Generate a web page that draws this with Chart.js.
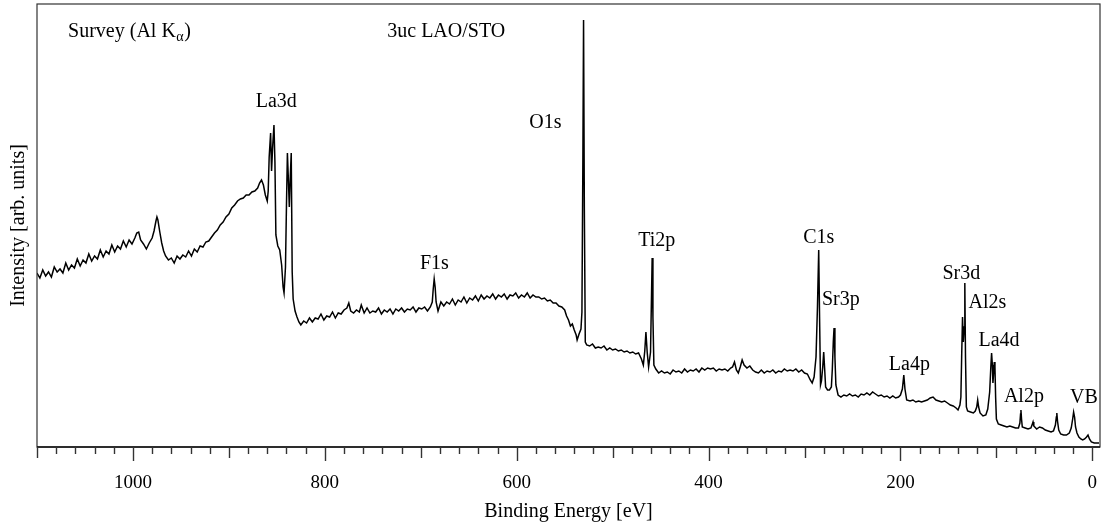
<!DOCTYPE html>
<html>
<head>
<meta charset="utf-8">
<script src="https://cdn.jsdelivr.net/npm/chart.js@4/dist/chart.umd.min.js"></script>
<style>
html,body{margin:0;padding:0;background:#fff;}
#wrap{width:1104px;height:525px;position:relative;}
</style>
</head>
<body>
<div id="wrap"><canvas id="c" width="1104" height="525"></canvas></div>
<script>
// Binding energy [eV] and intensity [arb. units]
const bindingEnergy = [
1100,1097,1094,1091,1088,1085,1082,1079,1076,1073,1070,1067,1064,1061,1058,1055,1052,1049,1046,1043,
1040,1037,1034,1031,1028,1025,1022,1019,1016,1013,1010,1007,1004,1001,998,996,994,992,989,986,
983,980,978,976,975,974,972,970,968,966,963,960,957,954,951,948,945,942,939,936,
933,930,927,924,921,918,915,912,909,906,903,900,897,894,891,888,885,882,879,876,
873,870,868,866,864,862,860,859,858,856.5,855.5,854.5,853,852,851,849,847,845,843.5,842.5,
841,840,839,838,837,836,835,834,833,831,829,827,825,
822,819,816,813,810,807,804,801,798,795,792,789,786,783,780,777,775,773,770,767,
764,762,759,756,753,750,747,744,741,738,735,732,729,726,723,720,717,714,711,708,
705,702,699,696,693,690,688,687,686,685,684,682,679,676,673,670,667,664,661,658,
655,652,649,646,643,640,637,634,631,628,625,622,619,616,613,610,607,604,601,598,
595,592,589,586,583,580,577,574,571,568,565,562,559,556,553,550,548,546,544,542,
540,538,537,535,533,532,531,530.3,529.5,528.5,527,524,521,518,515,512,509,506,503,500,
497,494,491,488,485,482,479,476,473,470,468,466.5,465.3,464,462.5,460.5,459.5,458.8,458,457,
455,452,449,446,443,440,437,434,431,428,425,422,419,416,413,410,407,404,401,398,
395,392,389,386,383,380,377,375,373,371,369,367,365,363,360,357,354,351,348,345,
342,339,336,333,330,327,324,321,318,315,312,309,306,303,300,297,294,292,290,288,
286.5,285.2,284.3,283.3,282.3,281,280,279,278,276,274,272,271,270,269.2,268.3,267.3,265,262,259,
256,253,250,247,244,241,238,235,232,229,226,223,220,217,214,211,208,205,202,200,
198,196.5,195.3,193.5,190,187,184,181,178,175,172,169,166,163,160,157,154,151,148,145,
142,140,138,137,136.2,135.3,134.5,133.5,132.9,132.2,131.3,130,127,124,122,120.5,119.5,118.5,117,114,
111,109,107,105.8,105,104.2,103.6,103,102.2,101.5,100.8,100,98,95,92,89,86,83,80,77,
75.5,74.8,74.4,73.8,73,70,67,64,62.5,61.8,61,58,55,52,49,46,43,40.5,38.5,37.5,
37,36.3,35,33,30,27,24,22,20.5,19.5,18.5,17.5,16,14,12,10,8,6,4.5,3,
1,-2,-5,-7
];
const intensity = [
174,169,177,171,175,170,180,175,178,174,184,177,182,179,188,181,187,184,193,186,
191,188,197,190,196,193,202,195,201,198,206,200,207,203,209,214,215,207,203,198,
204,209,216,226,230,227,215,204,196,191,187,189,184,191,188,192,190,196,191,198,
195,201,200,205,206,210,214,217,222,225,230,233,239,242,246,248,249,252,252,255,
256,259,264,267,262,252,246,256,290,314,276,298,322,285,212,201,197,182,160,154,
180,240,294,268,240,270,294,175,148,136,130,125,122,
126,124,129,125,129,128,133,127,131,130,135,129,134,133,137,139,144,136,134,137,
135,142,134,139,134,136,135,139,133,137,135,138,133,138,136,139,135,138,137,140,
135,139,138,140,136,140,145,158,168,160,145,136,145,141,145,143,148,142,147,145,
150,144,149,147,151,146,152,148,151,149,153,148,152,150,153,148,152,151,154,149,
152,150,154,149,152,150,150,148,149,146,147,144,144,141,140,137,131,127,121,123,
117,112,107,113,118,135,290,427,240,105,102,101,103,99,100,99,101,97,99,97,
98,96,97,95,96,94,95,93,94,88,82,96,115,95,80,95,150,189,130,82,
78,74,76,74,75,73,77,75,76,74,78,75,77,76,78,75,79,77,79,78,
79,76,78,77,78,76,79,80,85,77,74,80,87,82,79,81,77,75,74,77,
74,76,75,77,74,76,75,78,76,77,76,78,75,77,74,73,67,64,70,90,
140,197,130,62,66,80,95,78,60,57,57,60,78,105,119,90,62,52,50,52,
51,53,51,52,50,53,52,54,52,55,53,51,52,50,51,49,51,49,50,52,
58,72,58,47,46,47,45,46,45,46,47,49,50,47,46,45,46,44,42,41,
39,37,42,50,90,130,105,120,164,90,40,36,35,34,36,40,47,40,34,31,
32,38,55,80,94,82,64,72,85,80,50,28,23,22,21,20,21,20,19,19,
24,33,37,28,20,19,18,19,23,25,21,18,20,19,17,16,15,16,22,30,
34,26,17,13,12,12,14,19,28,35,30,20,14,10,8,7,8,10,12,8,
5,4,4,4
];
const majorTicks = [0, 200, 400, 600, 800, 1000];
const xRange = [-8, 1100];
const yRange = [0, 443];

// Peak labels: text, energy [eV], intensity level of the label baseline
const peakNames  = ['La3d','O1s','F1s','Ti2p','C1s','Sr3p','La4p','Sr3d','Al2s','La4d','Al2p','VB'];
const peakEnergy = [850.6, 570, 685.8, 454.1, 285.1, 262.2, 190.7, 136.5, 109.3, 97.3, 71.3, 8.7];
const peakLevel  = [340, 319, 178, 201, 204, 142, 77, 168, 139, 101, 45, 44];

const SERIF = "'Liberation Serif','Times New Roman',serif";
Chart.defaults.font.family = SERIF;
Chart.defaults.color = '#000';

const points = bindingEnergy.map((e, i) => ({x: e, y: intensity[i]}));

const decor = {
  id: 'decor',
  afterDatasetsDraw(chart) {
    const {ctx, chartArea: a, scales: {x, y}} = chart;
    ctx.save();
    // frame
    ctx.strokeStyle = '#333';
    ctx.lineWidth = 1.2;
    ctx.strokeRect(a.left, a.top, a.right - a.left, a.bottom - a.top);
    ctx.strokeStyle = '#111';
    ctx.lineWidth = 1.6;
    ctx.beginPath(); ctx.moveTo(a.left, a.bottom); ctx.lineTo(a.right, a.bottom); ctx.stroke();
    // tick marks
    ctx.strokeStyle = '#333';
    ctx.lineWidth = 1.4;
    for (let v = 0; v <= 1100; v += 20) {
      const px = Math.round(x.getPixelForValue(v)) + 0.5;
      const len = v % 200 === 0 ? 14 : (v % 100 === 0 ? 11 : 7);
      ctx.beginPath(); ctx.moveTo(px, a.bottom); ctx.lineTo(px, a.bottom + len); ctx.stroke();
    }
    // peak labels
    ctx.fillStyle = '#000';
    ctx.font = '20px ' + SERIF;
    ctx.textAlign = 'center';
    ctx.textBaseline = 'alphabetic';
    peakNames.forEach((n, i) => {
      ctx.fillText(n, x.getPixelForValue(peakEnergy[i]), y.getPixelForValue(peakLevel[i]));
    });
    // header texts
    ctx.textAlign = 'left';
    let hx = x.getPixelForValue(1067.6), hy = y.getPixelForValue(410);
    const s1 = 'Survey (Al K';
    ctx.fillText(s1, hx, hy);
    hx += ctx.measureText(s1).width;
    ctx.font = '14px ' + SERIF;
    ctx.fillText('\u03B1', hx + 0.5, hy + 4);
    hx += ctx.measureText('\u03B1').width + 1;
    ctx.font = '20px ' + SERIF;
    ctx.fillText(')', hx, hy);
    ctx.fillText('3uc LAO/STO', x.getPixelForValue(734.9), y.getPixelForValue(410));
    ctx.restore();
  }
};

new Chart(document.getElementById('c'), {
  type: 'line',
  data: {
    datasets: [{
      data: points,
      borderColor: '#000',
      borderWidth: 1.5,
      pointRadius: 0,
      tension: 0,
      fill: false
    }]
  },
  options: {
    responsive: false,
    animation: false,
    layout: {padding: {top: 4, right: 4, left: 0, bottom: 0}},
    plugins: {legend: {display: false}, tooltip: {enabled: false}},
    scales: {
      x: {
        type: 'linear',
        reverse: true,
        min: xRange[0],
        max: xRange[1],
        afterBuildTicks: s => { s.ticks = majorTicks.map(v => ({value: v})); },
        afterFit: s => { s.height = 78; },
        grid: {display: false, drawTicks: false},
        border: {display: false},
        ticks: {autoSkip: false, maxRotation: 0, padding: 25, font: {size: 19}, color: '#000',
                callback: v => String(v)},
        title: {display: true, text: 'Binding Energy [eV]', font: {size: 20}, color: '#000', padding: {top: 0, bottom: 1}}
      },
      y: {
        min: yRange[0],
        max: yRange[1],
        afterFit: s => { s.width = 37; },
        grid: {display: false, drawTicks: false},
        border: {display: false},
        ticks: {display: false},
        title: {display: true, text: 'Intensity [arb. units]', font: {size: 20}, color: '#000', padding: {top: 7, bottom: 0}}
      }
    }
  },
  plugins: [decor]
});
</script>
</body>
</html>
